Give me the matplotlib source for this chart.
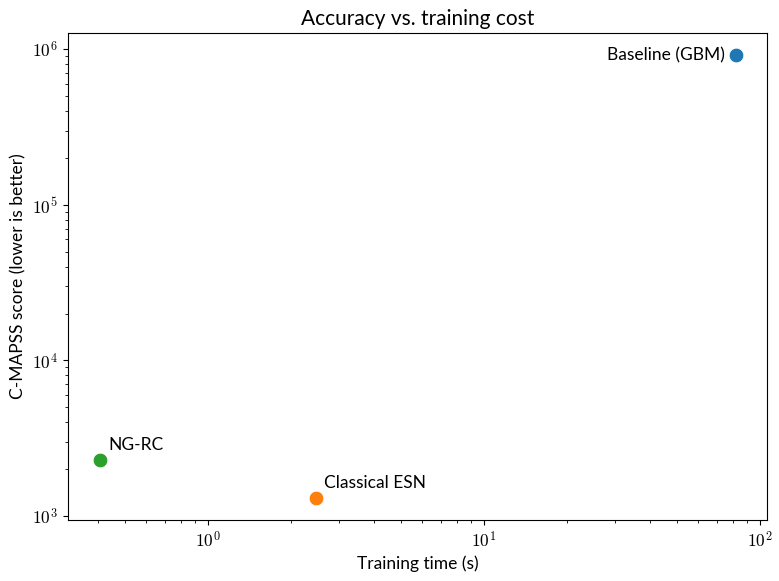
import matplotlib
matplotlib.use("Agg")
import matplotlib.pyplot as plt
from matplotlib.ticker import FuncFormatter
import numpy as np

# =========================
# data
# =========================
models = ["Baseline (GBM)", "Classical ESN", "NG-RC"]
train_time = [81.8, 2.46, 0.406]
cmapss_score = [9.15e5, 1306, 2290]
colors = ["#1f77b4", "#ff7f0e", "#2ca02c"]

plt.rcParams["font.family"] = ["Lato", "DejaVu Sans"]
plt.rcParams["mathtext.fontset"] = "cm"
plt.rcParams["font.size"] = 12.5

fig, ax = plt.subplots(figsize=(7.79, 5.81), dpi=100)

for name, t, s, c in zip(models, train_time, cmapss_score, colors):
    ax.scatter(t, s, s=110, color=c, edgecolors="white", linewidths=0.5, zorder=3)
    if name.startswith("Baseline"):
        ax.annotate(name, (t, s), xytext=(-8, 0), textcoords="offset points",
                    ha="right", va="center")
    else:
        ax.annotate(name, (t, s), xytext=(6, 5), textcoords="offset points",
                    ha="left", va="bottom")

ax.set_xscale("log")
ax.set_yscale("log")


def pow10(v, pos):
    e = int(round(np.log10(v)))
    if not np.isclose(v, 10.0 ** e):
        return ""
    return r"$10^{%d}$" % e


ax.xaxis.set_major_formatter(FuncFormatter(pow10))
ax.yaxis.set_major_formatter(FuncFormatter(pow10))
ax.tick_params(labelsize=12.5)

ax.set_xlabel("Training time (s)")
ax.set_ylabel("C-MAPSS score (lower is better)")
ax.set_title("Accuracy vs. training cost")

fig.subplots_adjust(left=0.087, right=0.985, top=0.943, bottom=0.105)
fig.savefig("out.png", dpi=100)
